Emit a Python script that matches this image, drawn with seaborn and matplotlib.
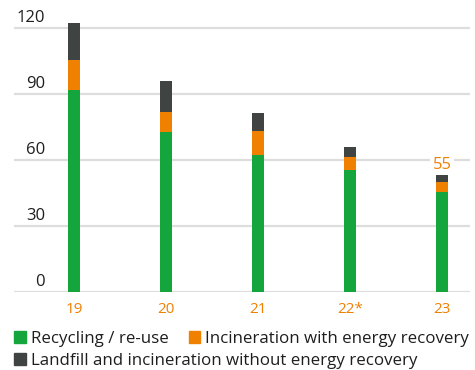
import matplotlib
matplotlib.use("Agg")
import matplotlib.pyplot as plt
import matplotlib.transforms as mtransforms
from matplotlib.patches import Patch
import seaborn as sns
import pandas as pd

# Waste by disposal route (thousand tonnes)
years = ["19", "20", "21", "22*", "23"]
recycling = [91.8, 72.7, 62.3, 55.6, 45.4]
incineration_recovery = [13.7, 9.1, 10.9, 5.8, 4.8]
landfill = [16.8, 14.1, 8.2, 4.5, 4.8]
total_label_year = "23"
total_label = 55

y_ticks = [0, 30, 60, 90, 120]

GREEN = "#14a53c"
ORANGE = "#f08000"
DARK = "#3f4442"
GRID = "#dddddd"
TEXT = "#1e1e1e"

sns.set_theme(style="white")
plt.rcParams["font.family"] = ["Open Sans", "DejaVu Sans"]

df = pd.DataFrame({
    "year": years,
    "recycling": recycling,
    "incineration": incineration_recovery,
    "landfill": landfill,
})
df["layer2"] = df["recycling"] + df["incineration"]
df["layer3"] = df["layer2"] + df["landfill"]

fig = plt.figure(figsize=(4.75, 3.70), dpi=100)
ax = fig.add_axes([14 / 475, 1 - 292 / 370, 456 / 475, 282 / 370])

bar_w = 0.13
for col, color in [("layer3", DARK), ("layer2", ORANGE), ("recycling", GREEN)]:
    sns.barplot(data=df, x="year", y=col, order=years, color=color,
                width=bar_w, saturation=1, ax=ax, zorder=3,
                linewidth=0, edgecolor="none")

ax.set_xlim(-0.652, 4.304)
ax.set_ylim(0, 128.2)
ax.set_xlabel("")
ax.set_ylabel("")
for s in ax.spines.values():
    s.set_visible(False)

# horizontal gridlines
for v in y_ticks:
    ax.axhline(v, color=GRID, lw=1.6, zorder=1)

# value labels sit above their gridlines on the left
ax.set_yticks([])
trans = mtransforms.blended_transform_factory(ax.transAxes, ax.transData)
for v in y_ticks:
    ax.annotate(str(v), xy=(31 / 456, v), xycoords=trans,
                xytext=(0, 7.3), textcoords="offset points",
                ha="right", va="center", fontsize=12, color=TEXT)

ax.tick_params(axis="x", length=0, pad=7, labelsize=11, labelcolor=ORANGE)

# total label above the latest bar
idx = years.index(total_label_year)
ax.annotate(str(total_label), xy=(idx, total_label), xytext=(0, 4.5),
            textcoords="offset points", ha="center", va="center",
            fontsize=12, color=ORANGE, zorder=4,
            bbox=dict(boxstyle="square,pad=0.15", fc="white", ec="none"))

handle_kw = dict(handlelength=0.68, handleheight=0.68, handletextpad=0.3,
                 borderpad=0, borderaxespad=0, frameon=False, fontsize=12.2,
                 labelcolor=TEXT)
leg1 = fig.legend(handles=[Patch(color=GREEN, label="Recycling / re-use"),
                           Patch(color=ORANGE, label="Incineration with energy recovery")],
                  ncol=2, columnspacing=1.2, loc="center left",
                  bbox_to_anchor=(14 / 475, 1 - 339 / 370), **handle_kw)
leg2 = fig.legend(handles=[Patch(color=DARK, label="Landfill and incineration without energy recovery")],
                  loc="center left", bbox_to_anchor=(14 / 475, 1 - 361 / 370), **handle_kw)

fig.savefig("out.png", dpi=100, facecolor="white")
